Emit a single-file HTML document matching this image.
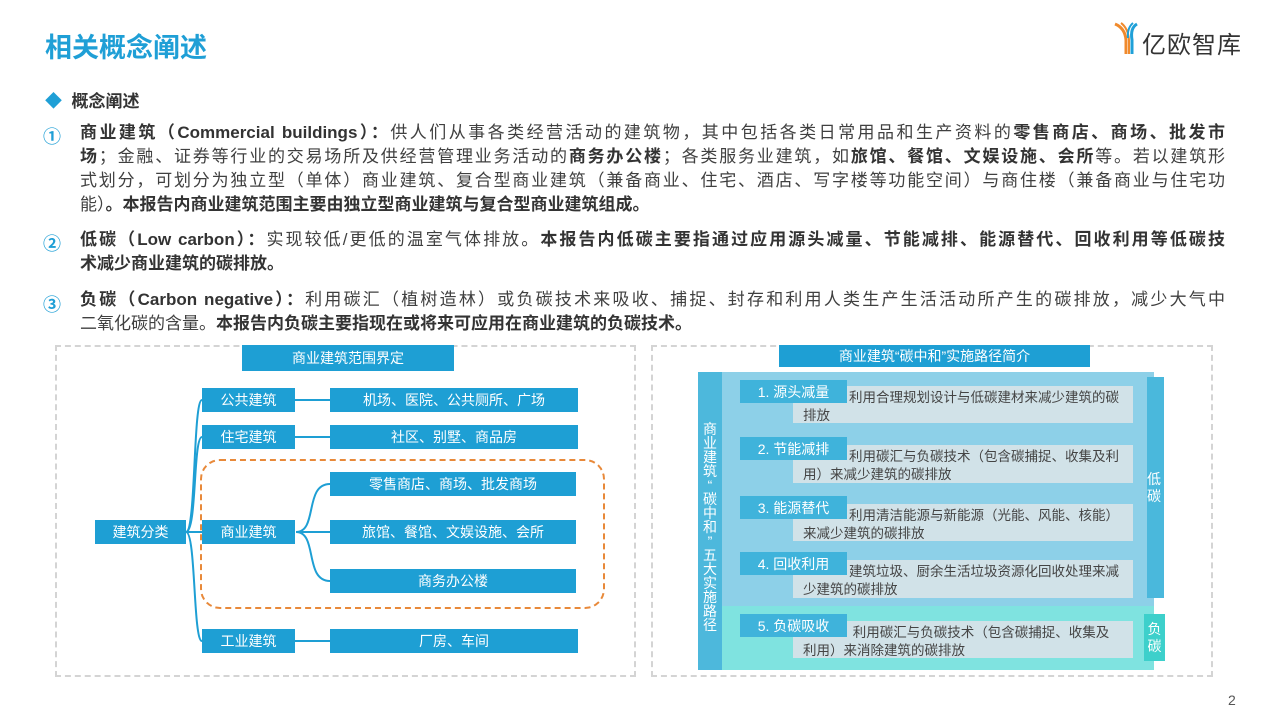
<!DOCTYPE html>
<html><head><meta charset="utf-8"><style>
*{margin:0;padding:0;box-sizing:border-box}
body{width:1280px;height:720px;background:#fff;position:relative;overflow:hidden;font-family:"Liberation Sans","Noto Sans CJK SC",sans-serif;color:#404040}
.a{position:absolute}
.l{position:absolute;left:80px;font-size:17px;white-space:nowrap;line-height:20px}
.j{width:1145px;white-space:normal;text-align:justify;text-align-last:justify;height:20px;overflow:hidden}
b{font-weight:bold;color:#333}
.bx{position:absolute;background:#1e9fd4;color:#fff;font-size:14px;display:flex;align-items:center;justify-content:center}
.lb{position:absolute;background:#3fb3db;color:#fff;font-size:14px;display:flex;align-items:center;justify-content:center;left:740px;width:107px;height:23px}
.tb{position:absolute;background:#d1e2e8;color:#444;font-size:13.5px;left:793px;width:340px;padding:3px 0 0 56px;line-height:18px}
.tb span{display:block;margin-left:-56px;padding-left:10px}
</style></head><body>
<div class="a" style="left:45px;top:26px;font-size:27px;font-weight:bold;color:#1f9fd6">相关概念阐述</div>
<svg class="a" style="left:1113px;top:20px" width="26" height="36"><path d="M2 4 Q12 8 13 20 L13 34" stroke="#f08a2c" stroke-width="3" fill="none"/><path d="M8 3 Q15 8 16 20 L16 34" stroke="#f08a2c" stroke-width="2" fill="none"/><path d="M24 4 Q17 8 19 20 L19 34" stroke="#1fa0d8" stroke-width="3" fill="none"/><path d="M20 3 Q14 8 15 18" stroke="#1fa0d8" stroke-width="2" fill="none"/></svg>
<div class="a" style="left:1142px;top:25px;font-size:24px;color:#333;letter-spacing:1px">亿欧智库</div>
<div class="a" style="left:45px;top:87px;font-size:17px;font-weight:bold;color:#333"><span style="color:#1f9fd6">◆</span>&nbsp; 概念阐述</div>
<div class="a" style="left:43px;top:123px;font-size:18px;color:#1f9fd6;font-weight:bold">①</div>
<div class="l j" style="top:123px"><b>商业建筑（Commercial buildings）：</b>供人们从事各类经营活动的建筑物，其中包括各类日常用品和生产资料的<b>零售商店、商场、批发市</b></div>
<div class="l j" style="top:147px"><b>场</b>；金融、证券等行业的交易场所及供经营管理业务活动的<b>商务办公楼</b>；各类服务业建筑，如<b>旅馆、餐馆、文娱设施、会所</b>等。若以建筑形</div>
<div class="l j" style="top:171px">式划分，可划分为独立型（单体）商业建筑、复合型商业建筑（兼备商业、住宅、酒店、写字楼等功能空间）与商住楼（兼备商业与住宅功</div>
<div class="l" style="top:195px">能）<b>。本报告内商业建筑范围主要由独立型商业建筑与复合型商业建筑组成。</b></div>
<div class="a" style="left:43px;top:230px;font-size:18px;color:#1f9fd6;font-weight:bold">②</div>
<div class="l j" style="top:230px"><b>低碳（Low carbon）：</b>实现较低/更低的温室气体排放。<b>本报告内低碳主要指通过应用源头减量、节能减排、能源替代、回收利用等低碳技</b></div>
<div class="l" style="top:254px"><b>术减少商业建筑的碳排放。</b></div>
<div class="a" style="left:43px;top:291px;font-size:18px;color:#1f9fd6;font-weight:bold">③</div>
<div class="l j" style="top:290px"><b>负碳（Carbon negative）：</b>利用碳汇（植树造林）或负碳技术来吸收、捕捉、封存和利用人类生产生活活动所产生的碳排放，减少大气中</div>
<div class="l" style="top:314px">二氧化碳的含量。<b>本报告内负碳主要指现在或将来可应用在商业建筑的负碳技术。</b></div>

<div class="a" style="left:55px;top:345px;width:581px;height:332px;border:2px dashed #d4d4d4"></div>
<div class="bx" style="left:242px;top:345px;width:212px;height:26px">商业建筑范围界定</div>
<div class="a" style="left:200px;top:459px;width:405px;height:150px;border:2px dashed #e8893a;border-radius:20px"></div>
<svg class="a" style="left:0;top:0" width="640" height="720"><g stroke="#1e9fd4" stroke-width="2" fill="none">
<path d="M186 532 C196 532 193 400 202 400"/><path d="M186 532 C197 532 193 437 202 437"/><path d="M186 532 L202 532"/><path d="M186 532 C196 532 193 641 202 641"/>
<path d="M295 400 L330 400"/><path d="M295 437 L330 437"/><path d="M295 641 L330 641"/>
<path d="M296 532 C318 532 304 484 330 484"/><path d="M296 532 L330 532"/><path d="M296 532 C318 532 304 581 330 581"/></g></svg>
<div class="bx" style="left:95px;top:520px;width:91px;height:24px">建筑分类</div>
<div class="bx" style="left:202px;top:388px;width:93px;height:24px">公共建筑</div>
<div class="bx" style="left:202px;top:425px;width:93px;height:24px">住宅建筑</div>
<div class="bx" style="left:202px;top:520px;width:93px;height:24px">商业建筑</div>
<div class="bx" style="left:202px;top:629px;width:93px;height:24px">工业建筑</div>
<div class="bx" style="left:330px;top:388px;width:248px;height:24px">机场、医院、公共厕所、广场</div>
<div class="bx" style="left:330px;top:425px;width:248px;height:24px">社区、别墅、商品房</div>
<div class="bx" style="left:330px;top:472px;width:246px;height:24px">零售商店、商场、批发商场</div>
<div class="bx" style="left:330px;top:520px;width:246px;height:24px">旅馆、餐馆、文娱设施、会所</div>
<div class="bx" style="left:330px;top:569px;width:246px;height:24px">商务办公楼</div>
<div class="bx" style="left:330px;top:629px;width:248px;height:24px">厂房、车间</div>

<div class="a" style="left:651px;top:345px;width:562px;height:332px;border:2px dashed #d4d4d4"></div>
<div class="bx" style="left:779px;top:345px;width:311px;height:22px">商业建筑“碳中和”实施路径简介</div>
<div class="a" style="left:722px;top:372px;width:432px;height:234px;background:#8dd0e8"></div>
<div class="a" style="left:722px;top:606px;width:432px;height:64px;background:#7fe3e0"></div>
<div class="a" style="left:698px;top:372px;width:24px;height:298px;background:#4db8dc;color:#fff;font-size:14px;line-height:14px;text-align:center;padding-top:50px">商<br>业<br>建<br>筑<br>“<br>碳<br>中<br>和<br>”<br>五<br>大<br>实<br>施<br>路<br>径</div>
<div class="a" style="left:1147px;top:377px;width:17px;height:221px;background:#4ab8dc;color:#fff;font-size:14px;line-height:17px;display:flex;align-items:center;text-align:center">低<br>碳</div>
<div class="a" style="left:1144px;top:614px;width:21px;height:47px;background:#3dd0cb;color:#fff;font-size:14px;line-height:17px;display:flex;align-items:center;justify-content:center;text-align:center">负<br>碳</div>
<div class="tb" style="top:386px;height:37px">利用合理规划设计与低碳建材来减少建筑的碳<span>排放</span></div>
<div class="lb" style="top:380px">1. 源头减量</div>
<div class="tb" style="top:445px;height:38px">利用碳汇与负碳技术（包含碳捕捉、收集及利<span>用）来减少建筑的碳排放</span></div>
<div class="lb" style="top:437px">2. 节能减排</div>
<div class="tb" style="top:504px;height:37px">利用清洁能源与新能源（光能、风能、核能）<span>来减少建筑的碳排放</span></div>
<div class="lb" style="top:496px">3. 能源替代</div>
<div class="tb" style="top:560px;height:38px">建筑垃圾、厨余生活垃圾资源化回收处理来减<span>少建筑的碳排放</span></div>
<div class="lb" style="top:552px">4. 回收利用</div>
<div class="tb" style="top:621px;height:37px">&nbsp;利用碳汇与负碳技术（包含碳捕捉、收集及<span>利用）来消除建筑的碳排放</span></div>
<div class="lb" style="top:614px">5. 负碳吸收</div>
<div class="a" style="left:1228px;top:692px;font-size:14px;color:#555">2</div>
</body></html>
